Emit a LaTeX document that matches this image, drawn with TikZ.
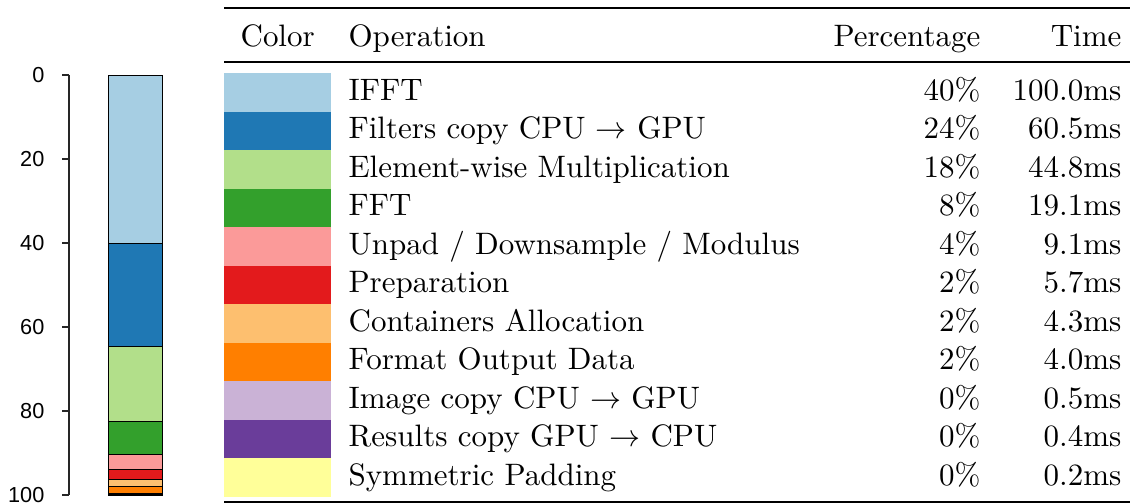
\documentclass[tikz,border=0pt]{standalone}
\usepackage{amsmath,amssymb}
\usepackage{xcolor}
\usepackage{fontspec}
\newfontfamily\ticksfont{Liberation Sans}
\usetikzlibrary{positioning, calc}

% paired palette
\definecolor{pA}{HTML}{A6CEE3}
\definecolor{pB}{HTML}{1F78B4}
\definecolor{pC}{HTML}{B2DF8A}
\definecolor{pD}{HTML}{33A02C}
\definecolor{pE}{HTML}{FB9A99}
\definecolor{pF}{HTML}{E31A1C}
\definecolor{pG}{HTML}{FDBF6F}
\definecolor{pH}{HTML}{FF7F00}
\definecolor{pI}{HTML}{CAB2D6}
\definecolor{pJ}{HTML}{6A3D9A}
\definecolor{pK}{HTML}{FFFF99}

\begin{document}
\begin{tikzpicture}[x=0.3226pt, y=-0.3226pt]
    % Styles
    \tikzstyle{cell} = [inner sep=0pt, font=\fontsize{10}{12}\selectfont]
    \tikzstyle{ticklabel} = [inner sep=0pt, anchor=east, font=\fontsize{7}{8}\ticksfont]
    \tikzstyle{segment} = [draw=black, line width=0.3pt]

    \useasboundingbox (0,0) rectangle (1130,504);

    % Axis
    \draw[line width=0.5pt, black!85] (69,75) -- (69,495);
    \foreach \v in {0,20,...,100} {
        \draw[line width=0.5pt, black!85] (62,{75+4.2*\v}) -- (69,{75+4.2*\v});
        \node[ticklabel] (tick\v) at (45,{75+4.2*\v}) {\v};
    }

    % Stacked bar
    \foreach \c/\a/\b in {pA/0/40.23, pB/40.23/64.56, pC/64.56/82.58, pD/82.58/90.27,
                          pE/90.27/93.93, pF/93.93/96.22, pG/96.22/97.95, pH/97.95/99.56,
                          pI/99.56/99.76, pJ/99.76/99.92, pK/99.92/100} {
        \filldraw[segment, fill=\c] (108,{75+4.2*\a}) rectangle (162,{75+4.2*\b});
    }

    % Table rules
    \draw[line width=0.8pt] (224,8) -- (1130,8);
    \draw[line width=0.5pt] (224,62) -- (1130,62);
    \draw[line width=0.8pt] (224,502) -- (1130,502);

    % Header
    \node[cell, anchor=base west] (hcolor) at (240,47) {Color};
    \node[cell, anchor=base west] (hop) at (348,47) {Operation};
    \node[cell, anchor=base east] (hpct) at (981,47) {Percentage};
    \node[cell, anchor=base east] (htime) at (1122,47) {Time};

    % Rows
    \foreach \c/\op/\pc/\tm [count=\i from 0] in {
        pA/IFFT/40/100.0,
        pB/Filters copy CPU $\rightarrow$ GPU/24/60.5,
        pC/Element-wise Multiplication/18/44.8,
        pD/FFT/8/19.1,
        pE/{Unpad / Downsample / Modulus}/4/9.1,
        pF/Preparation/2/5.7,
        pG/Containers Allocation/2/4.3,
        pH/Format Output Data/2/4.0,
        pI/Image copy CPU $\rightarrow$ GPU/0/0.5,
        pJ/Results copy GPU $\rightarrow$ CPU/0/0.4,
        pK/Symmetric Padding/0/0.2} {
        \pgfmathsetmacro{\rowtop}{73.3+38.49*\i}
        \fill[\c] (224,\rowtop) rectangle (331,{\rowtop+38.49});
        \node[cell, anchor=base west] (op\i) at (348,{\rowtop+27}) {\op};
        \node[cell, anchor=base east] (pct\i) at (981,{\rowtop+27}) {\pc\%};
        \node[cell, anchor=base east] (time\i) at (1122,{\rowtop+27}) {\tm ms};
    }
\end{tikzpicture}
\end{document}
